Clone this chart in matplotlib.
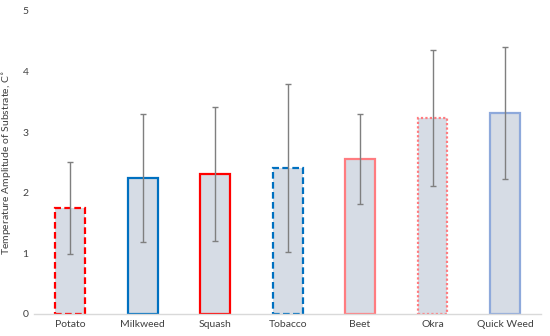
import matplotlib
matplotlib.use("Agg")
from matplotlib import pyplot as plt
import numpy as np

plt.rcParams['font.family'] = ['Lato', 'DejaVu Sans']

categories = ['Potato', 'Milkweed', 'Squash', 'Tobacco', 'Beet', 'Okra', 'Quick Weed']
means = [1.75, 2.24, 2.31, 2.41, 2.56, 3.23, 3.32]
errors = [0.76, 1.06, 1.10, 1.39, 0.74, 1.12, 1.09]
edge_colors = ['#FF0000', '#0070C0', '#FF0000', '#0070C0', '#FF7C80', '#FF7C80', '#8EA9DB']
edge_styles = [(0, (3, 1.5)), 'solid', 'solid', (0, (3, 1.5)), 'solid', (0, (1, 1)), 'solid']

fig = plt.figure(figsize=(5.5, 3.36), dpi=100)
ax = fig.add_axes([0.062, 0.0655, 0.922, 0.902])

x = np.arange(len(categories))
bars = ax.bar(x, means, width=0.41, color='#D6DCE5', zorder=2)
for b, ec, ls in zip(bars, edge_colors, edge_styles):
    b.set_edgecolor(ec)
    b.set_linewidth(1.6)
    b.set_linestyle(ls)

ax.errorbar(x, means, yerr=errors, fmt='none', ecolor='#7F7F7F',
            elinewidth=1.0, capsize=2.5, capthick=1.0, zorder=3)

ax.set_xlim(-0.5, len(categories) - 0.5)
ax.set_ylim(0, 5)
ax.set_yticks(range(6))
ax.set_xticks(x)
ax.set_xticklabels(categories)
ax.tick_params(axis='both', length=0, labelsize=7.5, colors='#404040', pad=4)
ax.set_ylabel('Temperature Amplitude of Substrate, C$^{\\circ}$', fontsize=7.5,
              color='#404040', labelpad=6)

for s in ['top', 'right', 'left']:
    ax.spines[s].set_visible(False)
ax.spines['bottom'].set_color('#D9D9D9')
ax.spines['bottom'].set_linewidth(1.0)
ax.spines['bottom'].set_zorder(4)

fig.savefig('out.png', dpi=100)
